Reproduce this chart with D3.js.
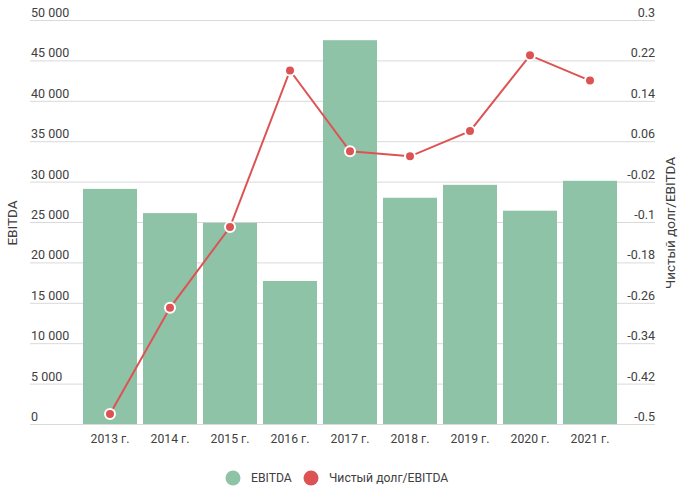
<!DOCTYPE html>
<html><head><meta charset="utf-8">
<script src="https://cdn.jsdelivr.net/npm/d3@7"></script>
<style>body{margin:0;background:#fff}text{font-family:Roboto,"Noto Sans",sans-serif}</style>
</head><body><svg id="c" width="686" height="492"></svg>
<script>
const categories = ["2013 г.","2014 г.","2015 г.","2016 г.","2017 г.","2018 г.","2019 г.","2020 г.","2021 г."];
const ebitda = [29100, 26100, 24900, 17700, 47500, 28000, 29600, 26400, 30100];
const ratio = [-0.48, -0.27, -0.11, 0.20, 0.04, 0.03, 0.08, 0.23, 0.18];
const leftTicks = [0,5000,10000,15000,20000,25000,30000,35000,40000,45000,50000];
const rightTicks = [-0.5,-0.42,-0.34,-0.26,-0.18,-0.1,-0.02,0.06,0.14,0.22,0.3];
const seriesNames = ["EBITDA","Чистый долг/EBITDA"];
const colors = ["#8ec3a7","#dd5353"];

const svg = d3.select("#c");
const plotTop = 20, plotBottom = 424, gl = 30, gr = 655;
const x = d3.scaleBand().domain(categories).range([80,620]).paddingInner(0.1).paddingOuter(0.05);
const yL = d3.scaleLinear().domain([0,50000]).range([plotBottom,plotTop]);
const yR = d3.scaleLinear().domain([-0.5,0.3]).range([plotBottom,plotTop]);
const fmt = v => d3.format(",")(v).replace(/,/g," ");
const txt = "#404040";

// grid
svg.append("g").selectAll("line").data(leftTicks).join("line")
  .attr("x1",gl).attr("x2",gr).attr("y1",d=>yL(d)+0.5).attr("y2",d=>yL(d)+0.5)
  .attr("stroke","#d9d9d9").attr("stroke-width",1);

// left labels
svg.append("g").selectAll("text").data(leftTicks).join("text")
  .attr("x",31).attr("y",d=>yL(d)-3).attr("font-size",12.5).attr("fill",txt)
  .text(d=>fmt(d));
// right labels
svg.append("g").selectAll("text").data(rightTicks).join("text")
  .attr("x",655).attr("y",d=>yR(d)-3).attr("font-size",12.5).attr("fill",txt)
  .attr("text-anchor","end").text(d=>String(+d.toFixed(2)));

// bars
svg.append("g").selectAll("rect").data(ebitda).join("rect")
  .attr("x",(d,i)=>x(categories[i])).attr("width",x.bandwidth())
  .attr("y",d=>yL(d)).attr("height",d=>plotBottom-yL(d)).attr("fill",colors[0]);

// x labels
svg.append("g").selectAll("text").data(categories).join("text")
  .attr("x",d=>x(d)+x.bandwidth()/2).attr("y",442.5).attr("text-anchor","middle")
  .attr("font-size",12.2).attr("fill",txt).text(d=>d);

// line
const line = d3.line().x((d,i)=>x(categories[i])+x.bandwidth()/2).y(d=>yR(d));
svg.append("path").datum(ratio).attr("d",line).attr("fill","none")
  .attr("stroke",colors[1]).attr("stroke-width",2);
svg.append("g").selectAll("circle").data(ratio).join("circle")
  .attr("cx",(d,i)=>x(categories[i])+x.bandwidth()/2).attr("cy",d=>yR(d))
  .attr("r",5).attr("fill",colors[1]).attr("stroke","#fff").attr("stroke-width",2);

// axis titles
svg.append("text").attr("transform","translate(17,223) rotate(-90)")
  .attr("text-anchor","middle").attr("font-size",13.5).attr("fill",txt).text("EBITDA");
svg.append("text").attr("transform","translate(675,223) rotate(-90)")
  .attr("text-anchor","middle").attr("font-size",13.5).attr("fill",txt).text("Чистый долг/EBITDA");

// legend
const lg = svg.append("g");
const legX = [233, 311];
lg.selectAll("circle").data(seriesNames).join("circle")
  .attr("cx",(d,i)=>legX[i]).attr("cy",478).attr("r",7.5).attr("fill",(d,i)=>colors[i]);
lg.selectAll("text").data(seriesNames).join("text")
  .attr("x",(d,i)=>legX[i]+18).attr("y",482).attr("font-size",12.2).attr("fill",txt).text(d=>d);
</script></body></html>
